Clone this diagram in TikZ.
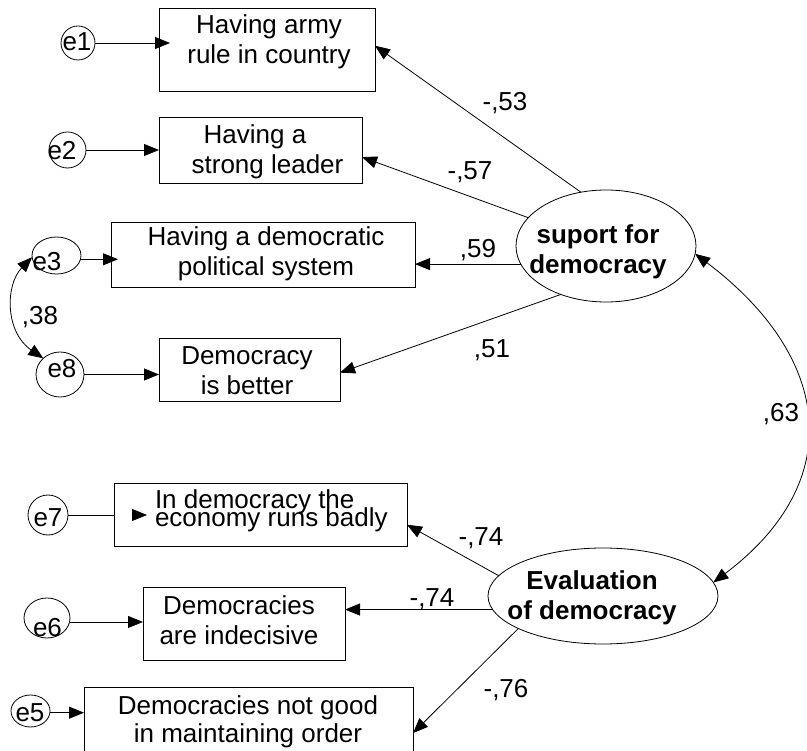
\documentclass[tikz,border=0pt]{standalone}
\usepackage{fontspec}
\setmainfont{Liberation Sans}
\usetikzlibrary{arrows.meta,shapes.geometric}
\begin{document}
\begin{tikzpicture}[x=1pt,y=-1pt,
  every node/.style={inner sep=0pt, outer sep=0pt},
  obs/.style={draw=black, line width=0.8pt, rectangle},
  lat/.style={draw=black, line width=0.8pt, ellipse},
  err/.style={draw=black, line width=0.8pt, ellipse},
  txt/.style={font=\fontsize{26}{30}\selectfont, align=center},
  btxt/.style={font=\fontsize{26}{30}\selectfont\bfseries, align=center},
  lab/.style={font=\fontsize{26}{30}\selectfont},
  arr/.style={line width=0.8pt, -{Triangle[length=15pt,width=12pt]}},
  dbl/.style={line width=0.8pt, {Triangle[length=15pt,width=12pt]}-{Triangle[length=15pt,width=12pt]}},
  ln/.style={line width=0.8pt}
]
\useasboundingbox (0,0) rectangle (807,751);
\clip (0,0) rectangle (807,751);

% observed variables
\node[obs, minimum width=216pt, minimum height=83pt] (box1) at (267,49.5) {};
\node[obs, minimum width=203pt, minimum height=66pt] (box2) at (260.5,150) {};
\node[obs, minimum width=304pt, minimum height=65pt] (box3) at (263,254.5) {};
\node[obs, minimum width=181pt, minimum height=63pt] (box4) at (249.5,369.5) {};
\node[obs, minimum width=293pt, minimum height=63pt] (box5) at (260.5,514.5) {};
\node[obs, minimum width=202pt, minimum height=73pt] (box6) at (244,623.5) {};
\node[obs, minimum width=329pt, minimum height=75pt] (box7) at (248.5,724.5) {};

\node[txt] (t1) at (269,42) {Having army\\rule in country};
\node[txt] (t2) at (261,152) {Having a\kern12pt\\\kern13pt strong leader};
\node[txt] (t3) at (266,254) {Having a democratic\\political system};
\node[txt] (t4) at (247,371) {Democracy\\is better};
\node[lab, anchor=base west] (t5a) at (155,509) {In democracy the};
\node[lab, anchor=base west] (t5b) at (155,527) {economy runs badly};
\node[txt] (t6) at (239,620) {Democracies\\are indecisive};
\node[txt, font=\fontsize{26}{28}\selectfont] (t7) at (248,722) {Democracies not good\\in maintaining order};

% latent variables
\node[lat, minimum width=180pt, minimum height=112pt] (sup) at (606,246) {};
\node[btxt] (ts) at (598,252) {suport for\\democracy};
\node[lat, minimum width=230pt, minimum height=96pt] (eva) at (603,596) {};
\node[btxt] (te) at (592,598) {Evaluation\\of democracy};

% error terms
\node[err, minimum width=34pt, minimum height=34pt] (e1) at (78,43) {};
\node[lab] (te1) at (77,42) {e1};
\node[err, minimum width=37pt, minimum height=36pt] (e2) at (67.5,150) {};
\node[lab] (te2) at (62,151) {e2};
\node[err, minimum width=49pt, minimum height=37pt] (e3) at (56.5,255.5) {};
\node[lab] (te3) at (47,262) {e3};
\node[err, minimum width=48pt, minimum height=45pt] (e8) at (60,374.5) {};
\node[lab] (te8) at (62,369) {e8};
\node[err, minimum width=40pt, minimum height=40pt] (e7) at (48,515) {};
\node[lab] (te7) at (48,518) {e7};
\node[err, minimum width=46pt, minimum height=40pt] (e6) at (47,618) {};
\node[lab] (te6) at (47.5,628) {e6};
\node[err, minimum width=39pt, minimum height=32pt] (e5) at (30.5,711) {};
\node[lab] (te5) at (30,713) {e5};

% error arrows
\draw[arr, shorten >=-11pt] (e1) -- (e1 -| box1.west);
\draw[arr] (e2) -- (e2 -| box2.west);
\draw[arr, shorten >=-7pt] (e3.-9) -- (e3.-9 -| box3.west);
\draw[arr] (e8) -- (e8 -| box4.west);
\draw[ln] (e7) -- (e7 -| box5.west);
\coordinate (e7base) at (132,515);
\coordinate (e7tip) at (147,515);
\draw[arr] (e7base) -- (e7tip);
\draw[arr] (e6.-10) -- (e6.-10 -| box6.west);
\draw[arr] (e5.-5) -- (e5.-5 -| box7.west);

% loadings
\draw[arr] (sup.115) -- (box1.2.4);
\draw[arr] (sup.160) -- (box2.-4);
\draw[arr] (sup.192.6) -- (sup.192.6 -| box3.east);
\draw[arr] (sup.227.4) -- (box4.-2);
\draw[arr] (eva.169.2) -- (box5.-4.9);
\draw[arr] (eva.187) -- (eva.187 -| box6.east);
\draw[arr] (eva.201) -- (box7.-3);

% covariances
\draw[dbl] (e3.184) .. controls (5,285) and (5,332) .. (e8.136);
\draw[dbl] (sup.-5) .. controls (832,357) and (848,481) .. (eva.7);

% labels
\node[lab] (l1) at (505,103) {-,53};
\node[lab] (l2) at (470,172) {-,57};
\node[lab] (l3) at (478,250) {,59};
\node[lab] (l4) at (492,350) {,51};
\node[lab] (l5) at (781,414) {,63};
\node[lab] (l6) at (481,538) {-,74};
\node[lab] (l7) at (432,599) {-,74};
\node[lab] (l8) at (506,690) {-,76};
\node[lab] (l9) at (40,317) {,38};
\end{tikzpicture}
\end{document}
